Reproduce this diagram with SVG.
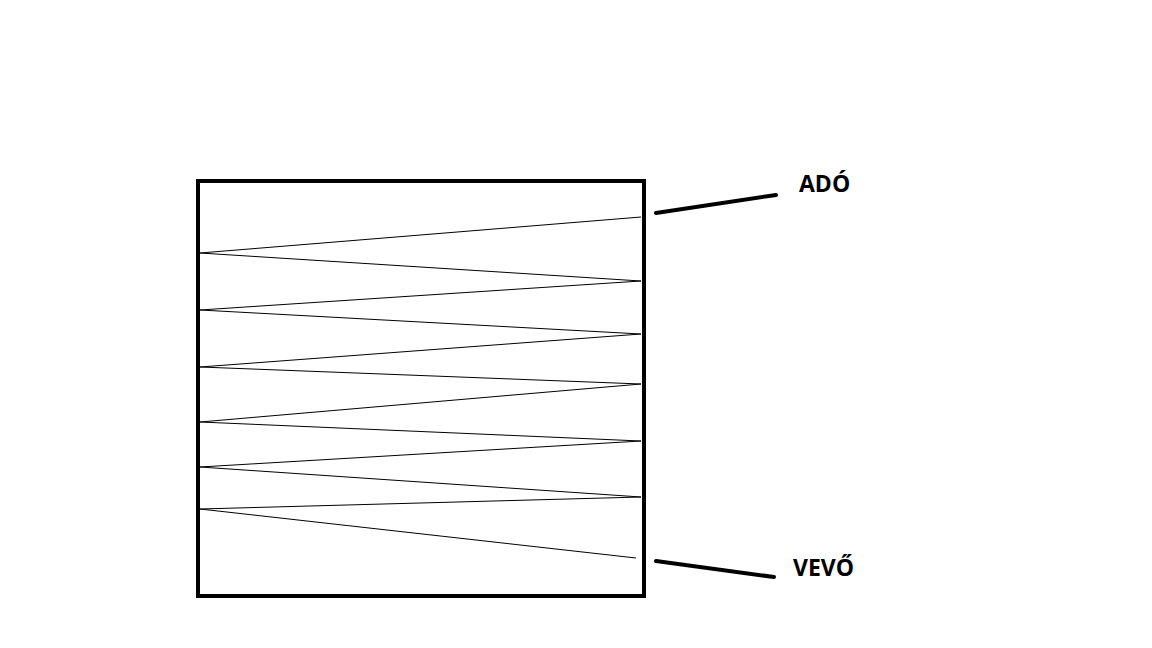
<svg xmlns="http://www.w3.org/2000/svg" width="1152" height="648" viewBox="0 0 1152 648">
<style>
.lbl{font-family:"Open Sans","Liberation Sans",sans-serif;font-weight:bold;font-size:23px;fill:#000}
.lead{stroke:#000;stroke-width:4;stroke-linecap:round;fill:none}
</style>
<rect width="1152" height="648" fill="#fff"/>
<g id="box">
<rect x="198" y="181" width="446" height="415" fill="none" stroke="#000" stroke-width="4"/>
</g>
<g id="connectors">
<polyline points="641,217 200,253 641,281 200,310 641,334 200,367 641,384 200,422 641,441 200,467 641,497 200,509 636,558" fill="none" stroke="#000" stroke-width="1"/>
<line class="lead" x1="656" y1="213" x2="776" y2="195"/>
<line class="lead" x1="656" y1="561" x2="774" y2="577"/>
</g>
<g id="ado"><text class="lbl" x="799" y="192">ADÓ</text></g>
<g id="vevo"><text class="lbl" x="793" y="576">VEVŐ</text></g>
</svg>
